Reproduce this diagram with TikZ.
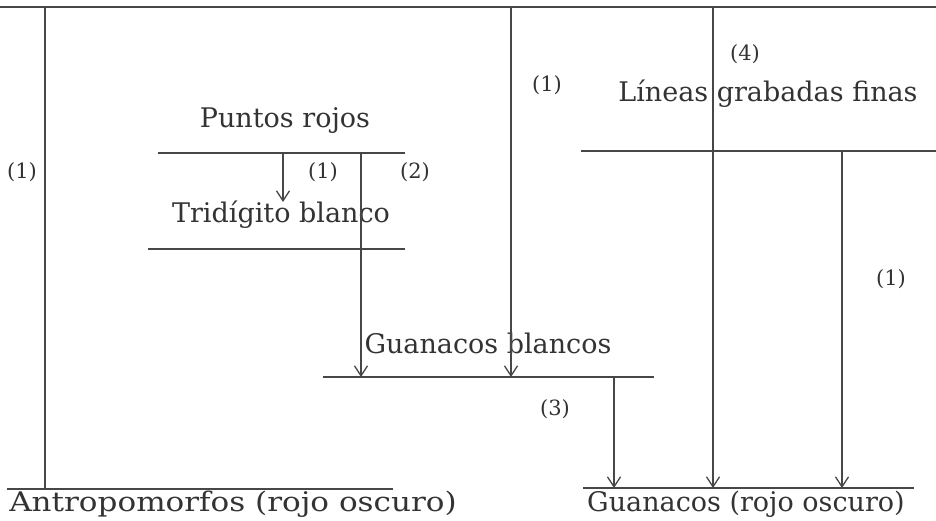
\documentclass[tikz,border=0pt]{standalone}
\usepackage{fontspec}
\setmainfont{DejaVu Serif}
\usetikzlibrary{arrows.meta}
\definecolor{ink}{HTML}{333333}
\definecolor{rulec}{HTML}{474747}
\tikzset{
  barline/.style={draw=rulec, line width=1.5pt},
  conn/.style={draw=rulec, line width=1.5pt},
  arr/.style={conn, -{Straight Barb[length=10pt,width=13pt,line width=1.3pt]}},
  title/.style={text=ink, font=\fontsize{27}{32}\selectfont, inner sep=0pt, anchor=base},
  num/.style={text=ink, font=\fontsize{21}{25}\selectfont, inner sep=0pt},
}
\begin{document}
\begin{tikzpicture}[x=1pt,y=-1pt]
\path[fill=white] (0,0) rectangle (936,520);
\useasboundingbox (0,0) rectangle (936,520);

% texts
\node[title] (pr) at (285,127) {Puntos rojos};
\node[title] (tb) at (281,222) {Tridígito blanco};
\node[title] (lg) at (768,101) {Líneas grabadas finas};
\node[title] (gb) at (488,353) {Guanacos blancos};
\node[title] (an) at (233,511) {\scalebox{1.15}[1]{Antropomorfos (rojo oscuro)}};
\node[title] (gr) at (746,511) {Guanacos (rojo oscuro)};

% horizontal rules
\coordinate (topL) at (0,7);     \coordinate (topR) at (936,7);
\coordinate (prL) at (158,153);  \coordinate (prR) at (405,153);
\coordinate (tbL) at (148,249);  \coordinate (tbR) at (405,249);
\coordinate (lgL) at (581,151);  \coordinate (lgR) at (936,151);
\coordinate (gbL) at (323,377);  \coordinate (gbR) at (654,377);
\coordinate (anL) at (7,489);    \coordinate (anR) at (393,489);
\coordinate (grL) at (583,488);  \coordinate (grR) at (914,488);
\draw[barline] (topL) -- (topR);
\draw[barline] (prL) -- (prR);
\draw[barline] (tbL) -- (tbR);
\draw[barline] (lgL) -- (lgR);
\draw[barline] (gbL) -- (gbR);
\draw[barline] (anL) -- (anR);
\draw[barline] (grL) -- (grR);

% connector columns
\coordinate (c1) at (45,0);
\coordinate (c2) at (283,0);
\coordinate (c3) at (361,0);
\coordinate (c4) at (511,0);
\coordinate (c5) at (614,0);
\coordinate (c6) at (713,0);
\coordinate (c7) at (842,0);
\coordinate (tbTop) at (283,202);

\draw[conn] (c1 |- topL) -- (c1 |- anL);
\draw[arr] (c2 |- prL) -- (tbTop);
\draw[arr] (c3 |- prL) -- (c3 |- gbL);
\draw[arr] (c4 |- topL) -- (c4 |- gbL);
\draw[arr] (c5 |- gbL) -- (c5 |- grL);
\draw[arr] (c6 |- topL) -- (c6 |- grL);
\draw[arr] (c7 |- lgL) -- (c7 |- grL);

% labels
\node[num] (l1) at (22,172) {(1)};
\node[num] (l2) at (323,172) {(1)};
\node[num] (l3) at (415,172) {(2)};
\node[num] (l4) at (547,85) {(1)};
\node[num] (l5) at (745,54) {(4)};
\node[num] (l6) at (555,409) {(3)};
\node[num] (l7) at (891,279) {(1)};
\end{tikzpicture}
\end{document}
